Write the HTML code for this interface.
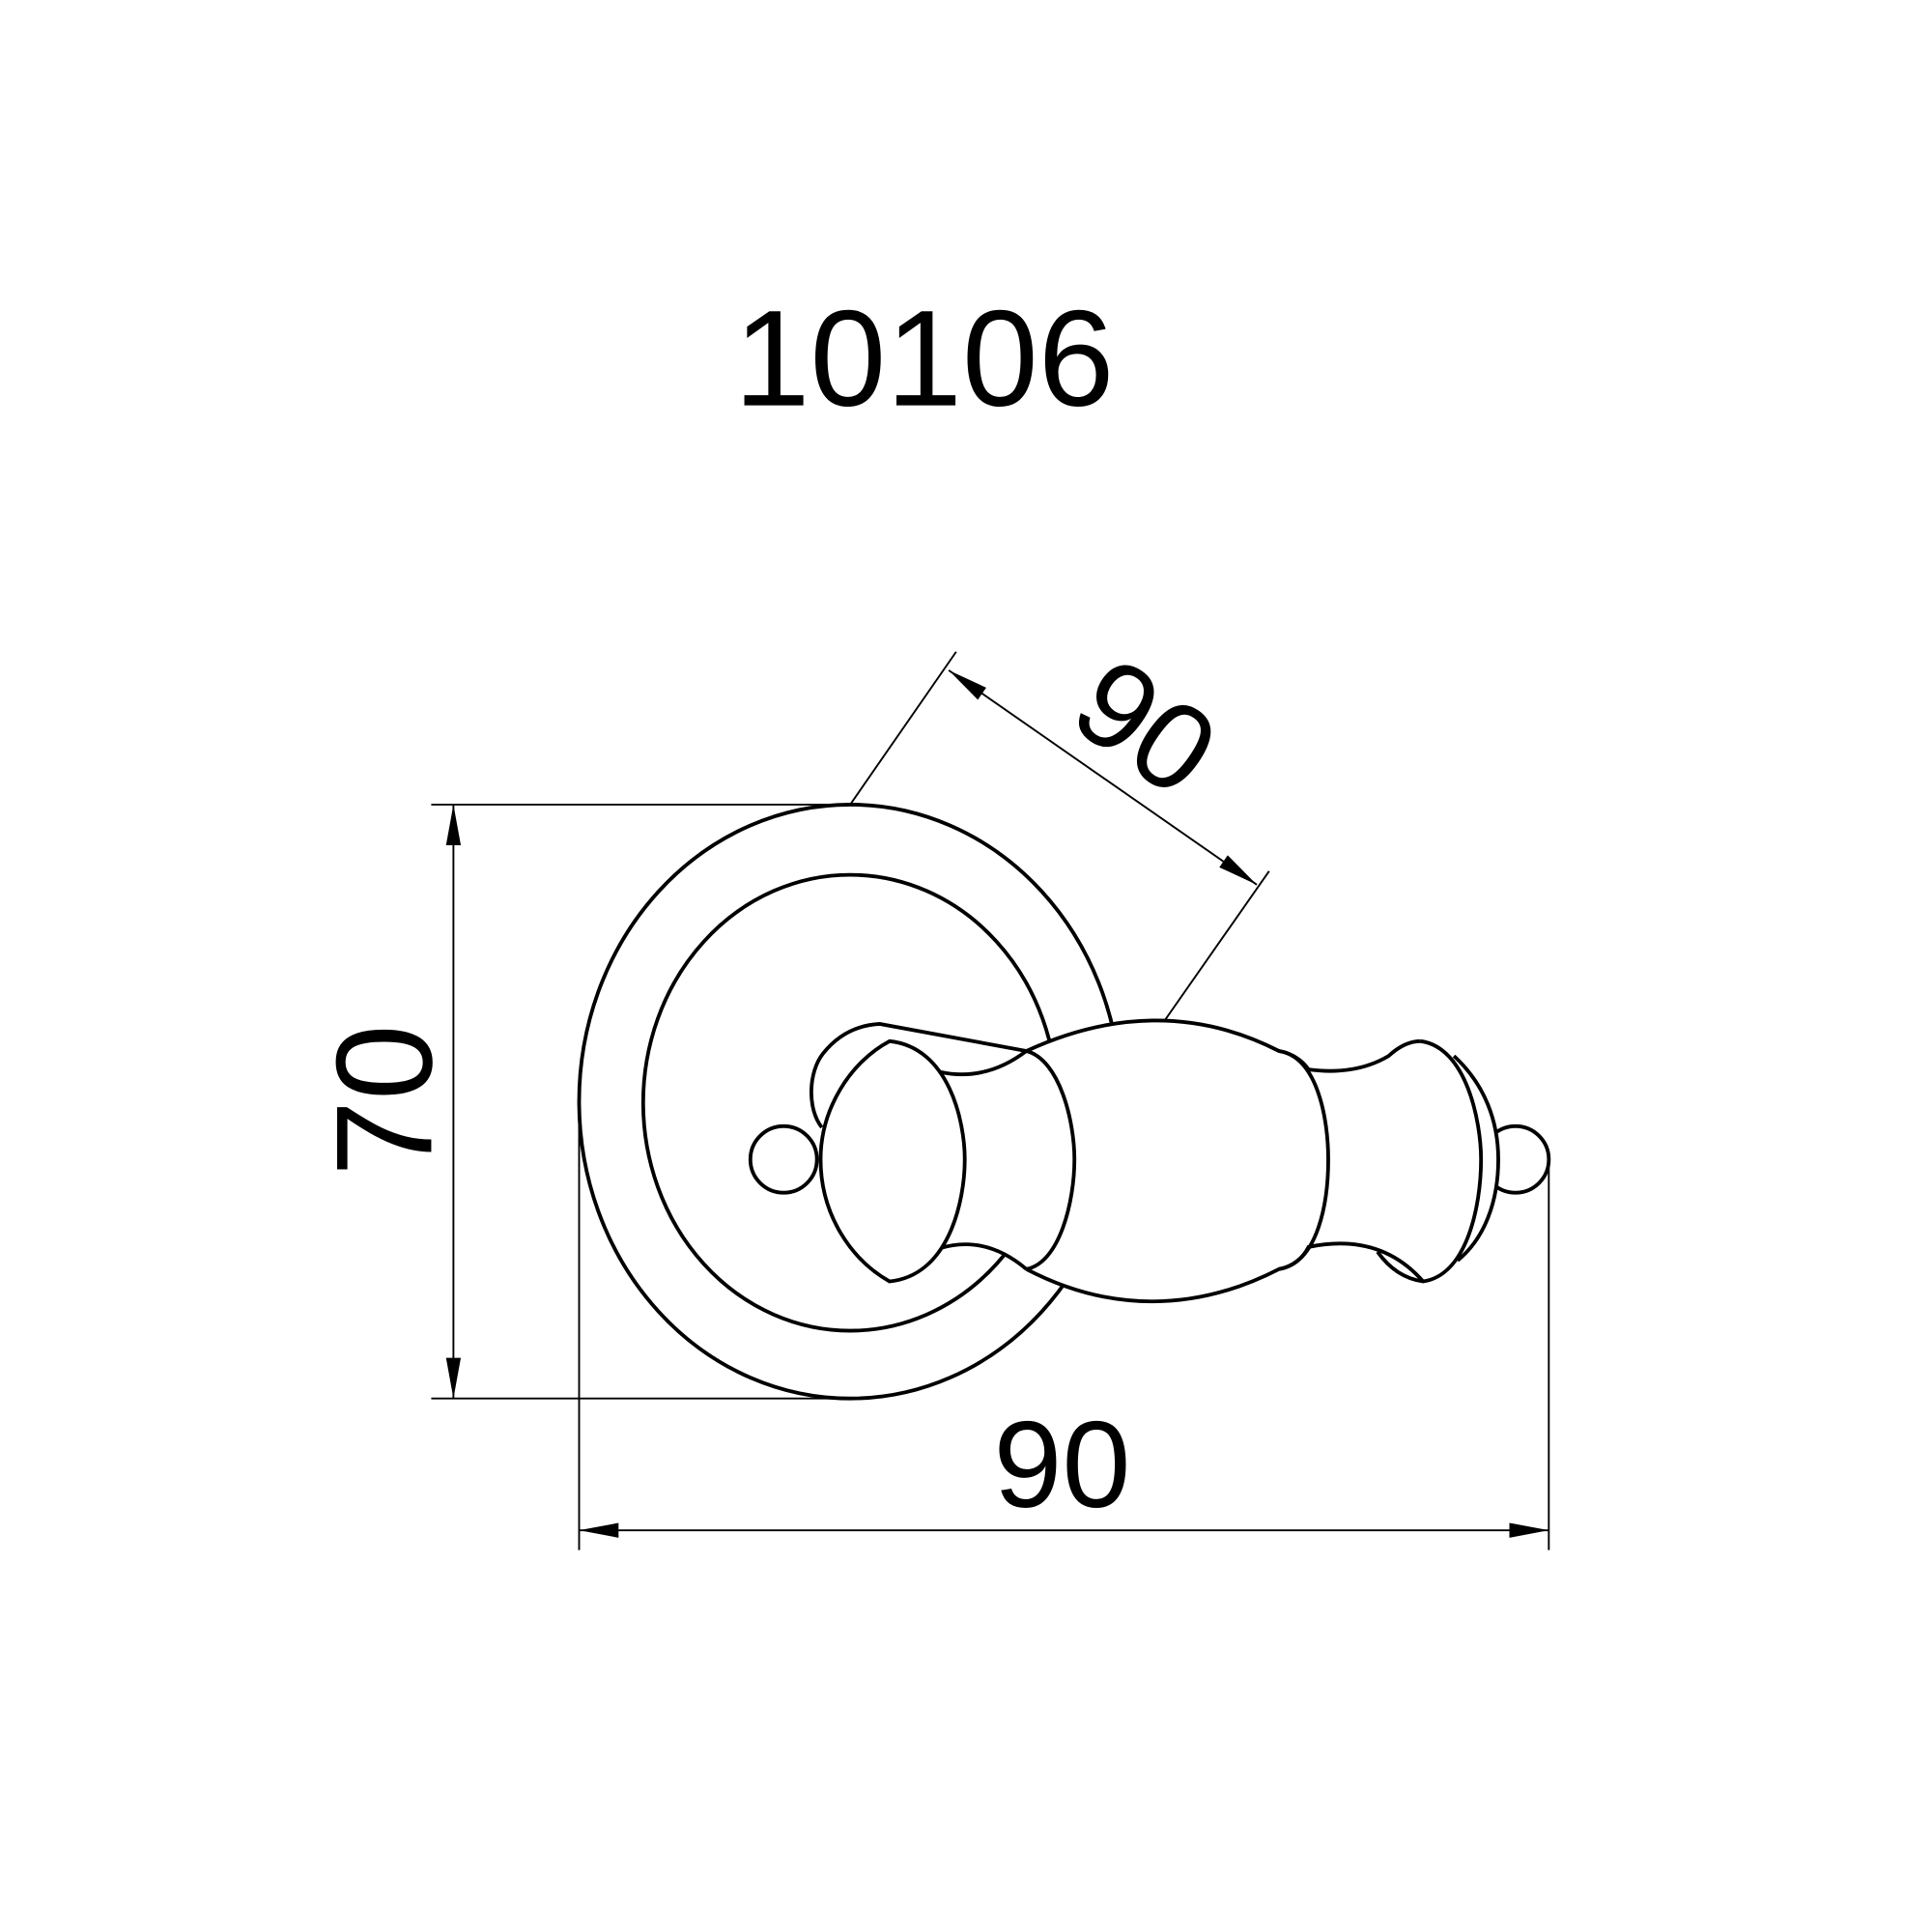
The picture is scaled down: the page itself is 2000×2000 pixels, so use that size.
<!DOCTYPE html>
<html><head><meta charset="utf-8"><style>html,body{margin:0;padding:0;background:#fff}svg{display:block}</style></head>
<body>
<svg width="2000" height="2000" viewBox="0 0 1568 1568" xmlns="http://www.w3.org/2000/svg">
<rect width="1568" height="1568" fill="#fff"/>
<text x="750" y="329" font-family="Liberation Sans, sans-serif" font-size="111" text-anchor="middle">10106</text>
<g stroke="#000" fill="none" stroke-width="1.5">
<line x1="350" y1="653" x2="690" y2="653"/>
<line x1="350" y1="1135" x2="690" y2="1135"/>
<line x1="368" y1="653" x2="368" y2="1135"/>
<line x1="470" y1="893" x2="470" y2="1258"/>
<line x1="1257" y1="941" x2="1257" y2="1258"/>
<line x1="470" y1="1242" x2="1257" y2="1242"/>
<line x1="690" y1="653" x2="776" y2="529"/>
<line x1="944" y1="830" x2="1030" y2="707"/>
<line x1="770" y1="544" x2="1020" y2="718"/>
</g>
<g fill="#000">
<polygon points="368,653 362,686 374,686"/>
<polygon points="368,1135 362,1102 374,1102"/>
<polygon points="470,1242 502,1236 502,1248"/>
<polygon points="1257,1242 1225,1236 1225,1248"/>
<polygon points="770,544 793.6,567.9 800.4,558.1"/>
<polygon points="1020,718 989.6,703.9 996.4,694.1"/>
</g>
<text transform="translate(350,893) rotate(-90)" font-family="Liberation Sans, sans-serif" font-size="111" text-anchor="middle">70</text>
<text x="862" y="1223" font-family="Liberation Sans, sans-serif" font-size="100" text-anchor="middle">90</text>
<text transform="translate(910,618) rotate(35)" font-family="Liberation Sans, sans-serif" font-size="100" text-anchor="middle">90</text>
<g stroke="#000" stroke-width="3" fill="#fff">
<ellipse cx="690" cy="894" rx="220" ry="241"/>
<ellipse cx="690" cy="895" rx="168" ry="185"/>
<circle cx="636" cy="941" r="27"/>
<circle cx="1230" cy="941" r="27"/>
<path d="M1180,857 C1205,880 1216,910 1216,941 C1216,975 1205,1005 1183,1023"/>
</g>
<g fill="#fff" stroke="none">
<path d="M667,915 C655,900 656,870 668,855 C680,840 695,832 714,831 L833,853 L833,1030 Q800,1002 763,1013 L722,1040 C700,1000 667,980 667,960 Z"/>
<path d="M833,853 C900,822 970,818 1038,853 C1050,855 1058,862 1062,868 Q1100,873 1127,857 Q1140,845 1153,845 C1190,850 1202,910 1202,941 C1202,980 1190,1035 1155,1040 Q1120,1000 1062,1012 C1058,1020 1050,1028 1038,1030 C970,1065 900,1065 833,1030 Z"/>
</g>
<g stroke="#000" stroke-width="3" fill="none">
<path d="M667,915 C655,900 656,870 668,855 C680,840 695,832 714,831 L833,853"/>
<path d="M763,870 Q800,878 833,853"/>
<path d="M763,1013 Q800,1002 833,1030"/>
<path d="M722,845 C690,862 666,900 666,941 C666,985 690,1022 722,1040 C770,1035 783,975 783,941 C783,910 770,850 722,845 Z" fill="#fff"/>
<path d="M833,853 C900,822 970,818 1038,853 C1050,855 1058,862 1062,868 Q1100,873 1127,857 Q1140,845 1153,845"/>
<path d="M833,1030 C900,1065 970,1065 1038,1030 C1050,1028 1058,1020 1062,1012 Q1120,1000 1155,1040"/>
<path d="M833,853 C860,860 872,910 872,941 C872,975 860,1025 833,1030"/>
<path d="M1038,853 C1070,858 1078,910 1078,941 C1078,975 1070,1025 1038,1030"/>
<path d="M1153,845 C1190,850 1202,910 1202,941 C1202,980 1190,1035 1155,1040 C1140,1038 1128,1030 1118,1016"/>
</g>
</svg>
</body></html>
